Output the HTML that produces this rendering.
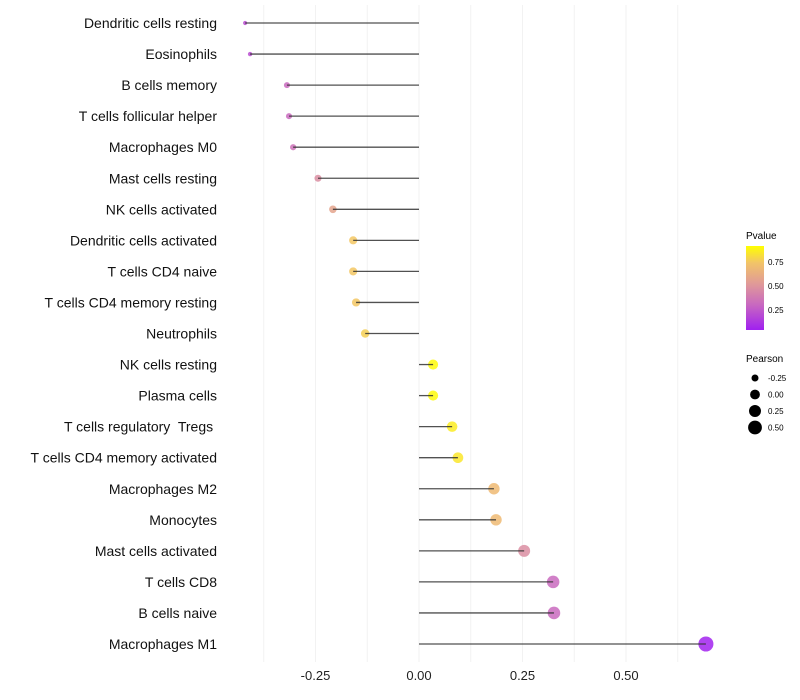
<!DOCTYPE html>
<html><head><meta charset="utf-8"><style>
body{margin:0;background:#fff;font-family:"Liberation Sans",sans-serif}
svg{display:block}
</style></head><body>
<svg id="chart" width="800" height="700">
<defs><linearGradient id="pg" x1="0" y1="1" x2="0" y2="0">
<stop offset="0" stop-color="#A020F0"/><stop offset="0.3" stop-color="#C868C0"/><stop offset="0.55" stop-color="#E09A98"/><stop offset="0.8" stop-color="#F2C468"/><stop offset="1" stop-color="#FFFF00"/></linearGradient></defs>
<g id="grid"></g><g id="marks"></g><g id="ylabels"></g><g id="xlabels"></g>
<g>
<text x="746" y="239" font-size="10" fill="#000">Pvalue</text>
<rect x="746" y="246" width="18" height="84" fill="url(#pg)"/>
<text x="768" y="265" font-size="8">0.75</text><text x="768" y="289" font-size="8">0.50</text><text x="768" y="313" font-size="8">0.25</text>
</g>
<g id="sizeleg">
<text x="746" y="362" font-size="10">Pearson</text>
</g>
</svg>
<script>
const categories=["Dendritic cells resting","Eosinophils","B cells memory","T cells follicular helper","Macrophages M0","Mast cells resting","NK cells activated","Dendritic cells activated","T cells CD4 naive","T cells CD4 memory resting","Neutrophils","NK cells resting","Plasma cells","T cells regulatory  Tregs ","T cells CD4 memory activated","Macrophages M2","Monocytes","Mast cells activated","T cells CD8","B cells naive","Macrophages M1"];
const pearson=[-0.42,-0.408,-0.319,-0.314,-0.304,-0.244,-0.208,-0.159,-0.159,-0.152,-0.13,0.034,0.034,0.08,0.094,0.181,0.186,0.254,0.324,0.326,0.693];
const pvalue=[0.2,0.2,0.3,0.3,0.33,0.45,0.55,0.72,0.72,0.72,0.75,0.9,0.9,0.85,0.83,0.66,0.66,0.45,0.3,0.3,0.05];
const xTicks=[-0.25,0,0.25,0.5];
const xTickLabels=["-0.25","0.00","0.25","0.50"];
const sizeLegendVals=[-0.25,0,0.25,0.5];
const sizeLegendLabels=["-0.25","0.00","0.25","0.50"];
const NS="http://www.w3.org/2000/svg";
const xs=v=>419+v*414;
const ys=i=>23+i*31.05;
const rs=v=>Math.sqrt(Math.max(2.25,9+(v+0.32)*47));
const stops=[[0.04,[160,32,240]],[0.29,[200,104,192]],[0.5,[224,154,152]],[0.71,[242,196,104]],[0.917,[255,255,0]]];
function col(p){if(p<=stops[0][0])return `rgb(${stops[0][1]})`;for(let i=1;i<stops.length;i++){if(p<=stops[i][0]){const t=(p-stops[i-1][0])/(stops[i][0]-stops[i-1][0]);const a=stops[i-1][1],b=stops[i][1];return `rgb(${a.map((c,k)=>Math.round(c+(b[k]-c)*t)).join(",")})`;}}return "rgb(255,255,0)";}
function mk(tag,attrs,parent){const e=document.createElementNS(NS,tag);for(const k in attrs)e.setAttribute(k,attrs[k]);parent.appendChild(e);return e;}
const grid=document.getElementById('grid'),marks=document.getElementById('marks'),yl=document.getElementById('ylabels'),xl=document.getElementById('xlabels');
[-0.375,-0.25,-0.125,0,0.125,0.25,0.375,0.5,0.625].forEach(v=>{const l=mk('line',{x1:xs(v),x2:xs(v),y1:5,y2:662,stroke:'#f2f2f2','stroke-width':1},grid);

});
xTicks.forEach((v,i)=>{const t=mk('text',{x:xs(v),y:680,'text-anchor':'middle','font-size':13,fill:'#222'},xl);t.textContent=xTickLabels[i];

});
categories.forEach((c,i)=>{const y=ys(i);
const t=mk('text',{x:217,y:y+5,'text-anchor':'end','font-size':14,fill:'#111',style:'white-space:pre'},yl);t.textContent=c;


const p=mk('circle',{cx:xs(pearson[i]),cy:y,r:rs(pearson[i]),fill:col(pvalue[i]),'fill-opacity':0.85},marks);


const l=mk('line',{x1:xs(0),x2:xs(pearson[i]),y1:y,y2:y,stroke:'#333','stroke-width':1.3,'stroke-opacity':0.85},marks);

});
const sl=document.getElementById('sizeleg');
sizeLegendVals.forEach((v,i)=>{const y=378+i*16.5;
const c=mk('circle',{cx:755,cy:y,r:rs(v),fill:'#000'},sl);


const t=mk('text',{x:768,y:y+3,'font-size':8},sl);t.textContent=sizeLegendLabels[i];

});
</script>
</body></html>
